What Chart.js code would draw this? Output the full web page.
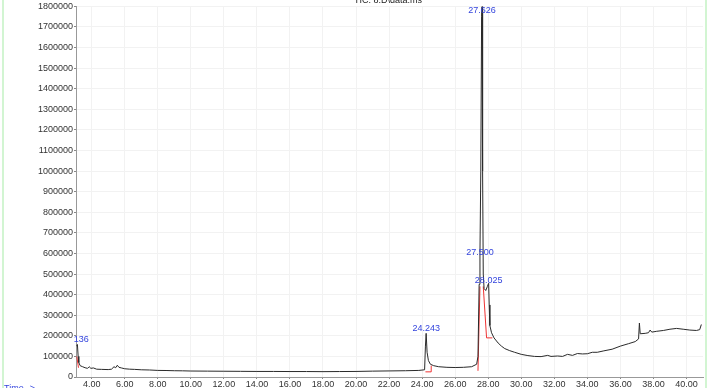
<!DOCTYPE html>
<html><head><meta charset="utf-8">
<script src="https://cdn.jsdelivr.net/npm/chart.js@4/dist/chart.umd.min.js"></script>
<style>html,body{margin:0;padding:0;background:#fff;}canvas{display:block;}</style>
</head><body>
<canvas id="c" width="709" height="388"></canvas>
<script>
// Retention time (min)
const times = [3.1,3.136,3.18,3.22,3.3,3.45,3.6,3.75,3.85,3.95,4.1,4.3,4.6,5.0,5.2,5.35,5.45,5.55,5.65,5.8,6.0,6.3,6.6,7.0,7.5,8.0,8.5,9.0,9.5,10,11,12,13,14,15,16,17,18,19,20,21,22,23,23.8,24.15,24.2,24.243,24.3,24.38,24.5,24.7,25.0,25.5,26.0,26.5,27.0,27.2,27.3,27.38,27.45,27.5,27.55,27.6,27.626,27.66,27.7,27.75,27.85,27.95,28.025,28.06,28.1,28.2,28.35,28.6,28.8,29.0,29.3,29.6,30.0,30.4,30.8,31.2,31.6,31.8,32.2,32.5,32.8,33.1,33.4,33.7,34.0,34.3,34.6,35.0,35.5,36.0,36.5,36.9,37.1,37.15,37.2,37.5,37.7,37.8,37.9,38.2,38.6,39.0,39.4,39.8,40.2,40.6,40.8,40.9];
// Abundance (TIC)
const abundance = [150000,158000,100000,70000,55000,50000,45000,42000,50000,42000,44000,38000,37000,36000,38000,50000,45000,57000,47000,44000,40000,38000,37000,35000,34000,32000,31500,30500,30000,29000,28500,28000,27500,27000,27000,26500,26500,26000,26500,27000,28500,29500,30500,32000,35000,150000,212000,120000,80000,62000,55000,50000,47000,46000,47000,50000,58000,62000,100000,450000,600000,1000000,1750000,1800000,1000000,500000,430000,420000,440000,455000,350000,250000,215000,190000,165000,150000,138000,128000,120000,110000,104000,100000,99000,105000,100000,102000,100000,110000,105000,114000,112000,113000,120000,120000,127000,135000,150000,162000,172000,185000,262000,210000,212000,215000,228000,218000,222000,226000,232000,236000,232000,228000,226000,230000,255000];
// Integration baseline marks (red)
const intTimes = [3.1,3.2,null,24.2,24.55,24.55,null,27.38,27.5,null,27.7,27.9,28.25];
const intValues = [100000,45000,null,25000,25000,55000,null,30000,440000,null,440000,190000,190000];
// Peak labels
const peakTimes = [3.136,24.243,27.500,28.025,27.626];
const peakLabels = ["3.136","24.243","27.500","28.025","27.626"];
const peakLabelValues = [165000,220000,590000,450000,1765000];
// Axis ticks
const xTicks = [4,6,8,10,12,14,16,18,20,22,24,26,28,30,32,34,36,38,40];
const yTicks = [0,100000,200000,300000,400000,500000,600000,700000,800000,900000,1000000,1100000,1200000,1300000,1400000,1500000,1600000,1700000,1800000];
const titleText = "TIC: 8.D\\data.ms";
const xAxisText = "Time-->";

const mainData = times.map((t,i)=>({x:t,y:abundance[i]}));
const intData = intTimes.map((t,i)=> t===null ? {x:intTimes[i-1]+0.001, y:null} : {x:t, y:intValues[i]});

const decor = {
  id:'decor',
  beforeDraw(chart){
    const c = chart.ctx;
    c.save();
    c.fillStyle = '#d2f5d2';
    c.fillRect(2,0,2,388);
    c.fillRect(705,0,2,388);
    c.restore();
  },
  afterDraw(chart){
    const c = chart.ctx, xs = chart.scales.x, ys = chart.scales.y, a = chart.chartArea;
    c.save();
    c.font = '9px "Liberation Sans", Arial, sans-serif';
    c.fillStyle = '#222';
    c.textAlign = 'center';
    c.textBaseline = 'bottom';
    c.fillText(titleText, 388, 5);
    c.fillStyle = '#3344dd';
    c.textAlign = 'left';
    c.textBaseline = 'top';
    c.fillText(xAxisText, 4, 384);
    c.beginPath();
    c.rect(a.left - 2, 0, chart.width - a.left, chart.height);
    c.clip();
    c.textAlign = 'center';
    c.textBaseline = 'bottom';
    peakTimes.forEach((t,i)=>{
      c.fillText(peakLabels[i], xs.getPixelForValue(t), ys.getPixelForValue(peakLabelValues[i]) + 1);
    });
    c.restore();
  }
};

const tickFont = {family:'"Liberation Sans", Arial, sans-serif', size:9};
new Chart(document.getElementById('c'), {
  type:'line',
  data:{datasets:[
    {data:mainData, borderColor:'#2a2a2a', borderWidth:1, pointRadius:0, tension:0, fill:false},
    {data:intData, borderColor:'#ee3333', borderWidth:1, pointRadius:0, tension:0, fill:false, spanGaps:false}
  ]},
  options:{
    animation:false, responsive:false,
    layout:{padding:{top:6,right:6,left:0,bottom:0}},
    plugins:{legend:{display:false}, tooltip:{enabled:false}, title:{display:false}},
    scales:{
      x:{type:'linear', min:3.05, max:41,
        afterBuildTicks(s){ s.ticks = xTicks.map(v=>({value:v})); },
        afterFit(s){ s.height = 11; },
        ticks:{font:tickFont, color:'#333', maxRotation:0, autoSkip:false, padding:0, callback:v=>Number(v).toFixed(2)},
        grid:{color:'#f2f2f2', tickLength:2, tickColor:'#888'},
        border:{color:'#999'}
      },
      y:{type:'linear', min:0, max:1800000,
        afterBuildTicks(s){ s.ticks = yTicks.map(v=>({value:v})); },
        afterFit(s){ s.width = 76; },
        ticks:{font:tickFont, color:'#333', autoSkip:false, padding:1, callback:v=>String(v)},
        grid:{color:'#f2f2f2', tickLength:2, tickColor:'#888'},
        border:{color:'#999'}
      }
    }
  },
  plugins:[decor]
});
</script>
</body></html>
